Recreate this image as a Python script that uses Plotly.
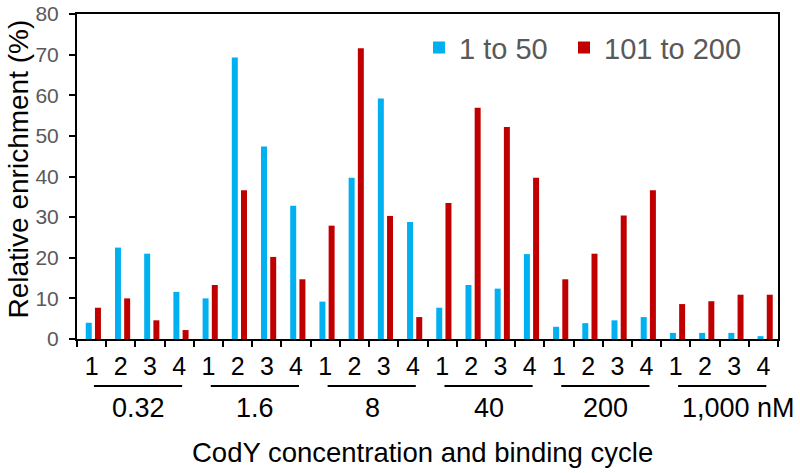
import plotly.graph_objects as go

# ---- data ----
groups = ["0.32", "1.6", "8", "40", "200", "1,000 nM"]
cycles = ["1", "2", "3", "4"]
blue_1_to_50 = [4.0, 22.5, 21.0, 11.6,
                10.0, 69.3, 47.4, 32.8,
                9.2, 39.7, 59.2, 28.8,
                7.7, 13.3, 12.4, 20.9,
                3.0, 3.9, 4.6, 5.4,
                1.5, 1.5, 1.5, 0.7]
red_101_to_200 = [7.7, 10.0, 4.6, 2.2,
                  13.3, 36.6, 20.2, 14.7,
                  27.9, 71.6, 30.3, 5.4,
                  33.5, 56.9, 52.2, 39.7,
                  14.7, 21.0, 30.4, 36.6,
                  8.6, 9.3, 10.9, 10.9]
series_names = ["1 to 50", "101 to 200"]
x_title = "CodY concentration and binding cycle"
y_title = "Relative enrichment (%)"

BLUE = "#00B0F0"
RED = "#C00000"
GRAY = "#595959"
FONT = "Liberation Sans, Arial, sans-serif"

cats = [f"{g}|{c}" for g in groups for c in cycles]
labels = [c for g in groups for c in cycles]

BAR_W = 0.205
fig = go.Figure()
fig.add_trace(go.Bar(x=cats, y=blue_1_to_50, name=series_names[0], legend="legend",
                     width=BAR_W, offset=-0.20,
                     marker=dict(color=BLUE, line=dict(width=0))))
fig.add_trace(go.Bar(x=cats, y=red_101_to_200, name=series_names[1], legend="legend2",
                     width=BAR_W, offset=0.115,
                     marker=dict(color=RED, line=dict(width=0))))

L, R, T, B = 77, 22, 14, 134
W, H = 800, 473
ph = H - T - B
pw = W - L - R

def px(pix):
    """pixel column -> paper x"""
    return (pix - L) / pw

def py(pix):
    """pixel row -> paper y"""
    return (H - B - pix) / ph

legend_style = dict(orientation="h", xanchor="left", y=0.975, yanchor="top",
                    font=dict(size=29, color=GRAY, family=FONT),
                    bgcolor="rgba(0,0,0,0)")

fig.update_layout(
    width=W, height=H,
    margin=dict(l=L, r=R, t=T, b=B, autoexpand=False),
    paper_bgcolor="white", plot_bgcolor="white",
    barmode="overlay",
    font=dict(family=FONT, color="black"),
    showlegend=True,
    legend=dict(x=px(419), **legend_style),
    legend2=dict(x=px(564), **legend_style),
)

fig.update_xaxes(
    type="category", categoryorder="array", categoryarray=cats,
    range=[-0.5, len(cats) - 0.5], autorange=False,
    tickmode="array", tickvals=cats, ticktext=labels,
    tickson="boundaries", ticks="outside", ticklen=6, tickwidth=2, tickcolor="black",
    showline=True, linecolor="black", linewidth=2, mirror=True,
    showgrid=False, zeroline=False, automargin=False,
    tickfont=dict(size=25, color="black", family=FONT),
    ticklabelstandoff=4,
)
fig.update_yaxes(
    range=[0, 80], autorange=False, dtick=10, tick0=0,
    ticks="outside", ticklen=6, tickwidth=2, tickcolor="black",
    showline=True, linecolor="black", linewidth=2, mirror=True,
    showgrid=False, zeroline=False, automargin=False,
    tickfont=dict(size=21, color=GRAY, family=FONT),
    ticklabelstandoff=6,
)

# group underlines and labels
for gi, g in enumerate(groups):
    i0 = gi * len(cycles)
    i1 = i0 + len(cycles) - 1
    fig.add_shape(type="line", xref="x", yref="paper",
                  x0=i0 + 0.08, x1=i1 + 0.1, y0=py(386), y1=py(386),
                  line=dict(color="black", width=2))
    xc = (i0 + i1) / 2 + 0.1
    xshift = 0
    if g.endswith("nM"):
        xshift = 16
    fig.add_annotation(text=g, xref="x", yref="paper", x=xc, y=py(408),
                       xanchor="center", yanchor="middle", showarrow=False,
                       xshift=xshift, font=dict(size=27, color="black", family=FONT))

fig.add_annotation(text=x_title, xref="paper", yref="paper", x=0.5, y=py(452),
                   xanchor="center", yanchor="middle", xshift=-5, showarrow=False,
                   font=dict(size=27.5, color="black", family=FONT))
fig.add_annotation(text=y_title, xref="paper", yref="paper", x=0, y=0.5,
                   xanchor="center", yanchor="middle", xshift=-59, yshift=7,
                   textangle=-90, showarrow=False,
                   font=dict(size=28, color="black", family=FONT))

fig.write_html("out.html", config={"displayModeBar": False},
               post_script="document.body.style.margin='0';document.body.style.overflow='hidden';")
